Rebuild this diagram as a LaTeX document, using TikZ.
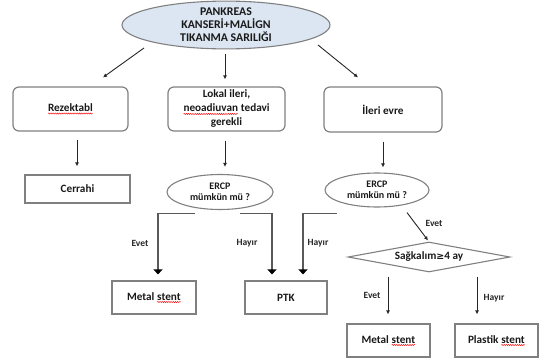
\documentclass[tikz,border=0pt]{standalone}
\usepackage{fontspec}
\setmainfont{Carlito}
\newfontfamily\djv{DejaVu Sans}
\usetikzlibrary{shapes.geometric,arrows.meta,decorations.pathmorphing}
\newcommand\rwave[1]{\tikz[baseline=(w.base),every node/.style={}]{\node[shape=rectangle,draw=none,fill=none,inner sep=0pt,outer sep=0pt,minimum width=0pt,minimum height=0pt,rounded corners=0pt] (w) {#1};
  \draw[red,line width=0.45pt,rounded corners=0pt,decorate,decoration={snake,amplitude=0.6pt,segment length=2.2pt}] ([yshift=-2pt]w.base west) -- ([yshift=-2pt]w.base east);}}
\definecolor{bordergray}{RGB}{128,128,128}
\definecolor{topfill}{RGB}{220,230,242}
\definecolor{txt}{RGB}{25,25,25}
\begin{document}
\begin{tikzpicture}[x=1pt,y=-1pt,
  every node/.style={text=txt,font=\fontsize{11.2}{14}\selectfont\bfseries,align=center,inner sep=1pt},
  rbox/.style={draw=bordergray,line width=1.2pt,rounded corners=6pt},
  sbox/.style={draw=bordergray,line width=1.2pt},
  oval/.style={ellipse,draw=bordergray,line width=1.1pt,font=\fontsize{10}{10.5}\selectfont\bfseries},
  arr/.style={draw=black!85,line width=0.9pt,-{Latex[length=4pt,width=4pt]}},
  elb/.style={draw=black!65,line width=1.8pt,-{Triangle[length=5pt,width=9pt,color=black]}},
  lbl/.style={font=\fontsize{9.5}{11}\selectfont\bfseries,text=black!85}]
\useasboundingbox (0,0) rectangle (545,361);
% nodes
\node[ellipse,draw=bordergray,fill=topfill,line width=1.1pt,minimum width=208pt,minimum height=46pt,inner sep=0pt,
  font=\fontsize{11.8}{13}\selectfont\bfseries] (top) at (226,25) {PANKREAS\\KANSERİ+MALİGN\\TIKANMA SARILIĞI};
\node[rbox,minimum width=115pt,minimum height=44pt] (r1) at (70.5,109) {\rwave{Rezektabl}};
\node[rbox,minimum width=117pt,minimum height=44pt] (r2) at (226.5,109) {Lokal ileri,\\\rwave{neoadiuvan} tedavi\\gerekli};
\node[rbox,minimum width=118pt,minimum height=45pt] (r3) at (383,109.5) {İleri evre};
\node[sbox,minimum width=105pt,minimum height=28pt] (cer) at (77.5,189) {Cerrahi};
\node[oval,minimum width=106pt,minimum height=35pt,inner sep=0pt] (e1) at (220,192) {ERCP\\mümkün mü ?};
\node[oval,minimum width=104pt,minimum height=34pt,inner sep=0pt] (e2) at (377,190) {ERCP\\mümkün mü ?};
\node[sbox,minimum width=84pt,minimum height=33pt] (m1) at (154,297.5) {Metal \rwave{stent}};
\node[sbox,minimum width=82pt,minimum height=33pt] (ptk) at (286,297.5) {PTK};
\node[diamond,draw=bordergray,line width=1.1pt,minimum width=162pt,minimum height=30pt,aspect=5.4,inner sep=0pt] (dia) at (429,257) {Sağkalım{\djv\fontsize{9.5}{10}\selectfont ≥}4 ay};
\node[sbox,minimum width=83pt,minimum height=33pt] (m2) at (388.5,340.5) {Metal \rwave{stent}};
\node[sbox,minimum width=83pt,minimum height=33pt] (p2) at (496.5,340.5) {Plastik \rwave{stent}};
% connectors
\draw[arr] ([shift={(-82,23)}]top.center) -- ([shift={(32.5,-9)}]r1.north);
\draw[arr] ([shift={(-1,5)}]top.south) -- ([shift={(-1.5,-7)}]r2.north);
\draw[arr] ([shift={(92,20)}]top.center) -- ([shift={(-25,-9)}]r3.north);
\draw[arr] ([shift={(-0.5,-34)}]cer.north) -- ([shift={(-0.5,-8)}]cer.north);
\draw[arr] ([shift={(-1.5,9)}]r2.south) -- ([shift={(5,-7)}]e1.north);
\draw[arr] ([shift={(0,9)}]r3.south) -- ([shift={(6,-5)}]e2.north);
\draw[elb] ([shift={(-25,3.5)}]e1.south) -| ([shift={(4,-6)}]m1.north);
\draw[elb] ([shift={(20,3.5)}]e1.south) -| ([shift={(-14,-6)}]ptk.north);
\draw[elb] ([shift={(-40,6)}]e2.south) -| ([shift={(17,-6)}]ptk.north);
\draw[arr] ([shift={(30,5)}]e2.south) -- ([shift={(-1,-1)}]dia.north);
\draw[arr] ([shift={(-41,4)}]dia.south) -- ([shift={(-0.5,-9)}]m2.north);
\draw[arr] ([shift={(48,4)}]dia.south) -- ([shift={(-19.5,-9)}]p2.north);
% labels
\node[lbl] (l1) at (140,243) {Evet};
\node[lbl] (l2) at (247,243) {Hayır};
\node[lbl] (l3) at (318,243) {Hayır};
\node[lbl] (l4) at (434,223) {Evet};
\node[lbl] (l5) at (372,295) {Evet};
\node[lbl] (l6) at (494,298) {Hayır};
\end{tikzpicture}
\end{document}
